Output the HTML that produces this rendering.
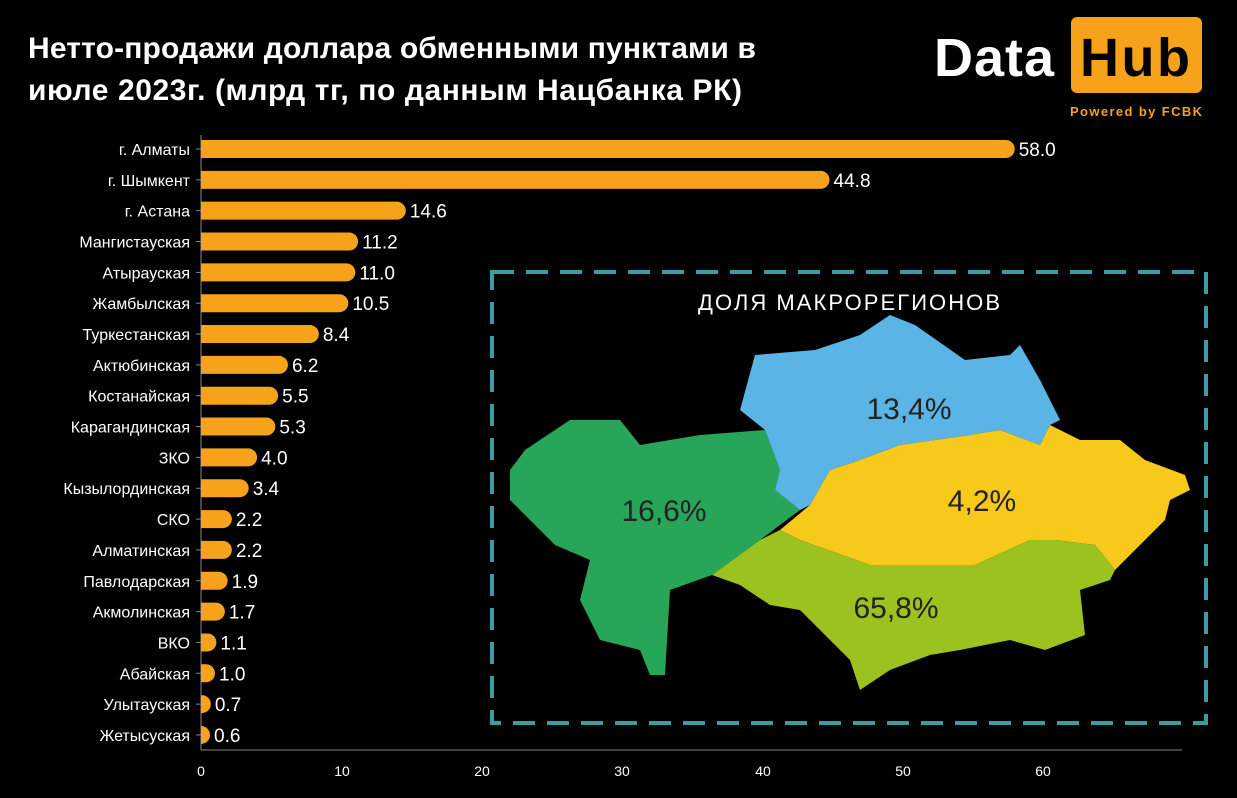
<!DOCTYPE html><html><head><meta charset="utf-8"><style>
body{margin:0;background:#000;width:1237px;height:793px;overflow:hidden;font-family:"Liberation Sans",sans-serif;}
</style></head><body>
<svg width="1237" height="793" xmlns="http://www.w3.org/2000/svg" font-family="Liberation Sans, sans-serif">
<text x="28" y="58" fill="#fff" font-size="30" font-weight="bold" textLength="728">Нетто-продажи доллара обменными пунктами в</text>
<text x="28" y="100" fill="#fff" font-size="30" font-weight="bold" textLength="714">июле 2023г. (млрд тг, по данным Нацбанка РК)</text>
<text x="934" y="76" fill="#fff" font-size="54" font-weight="bold" textLength="120">Data</text>
<rect x="1071" y="17" width="131" height="76" rx="6" fill="#f7a21b"/>
<text x="1080" y="76" fill="#000" font-size="54" font-weight="bold" textLength="110">Hub</text>
<text x="1070" y="116" fill="#f7a21b" font-size="13" font-weight="bold" textLength="132">Powered by FCBK</text>
<rect x="492" y="272" width="714" height="451" fill="none" stroke="#3c9ca6" stroke-width="4" stroke-dasharray="22 12"/>
<text x="849" y="310" fill="#fff" font-size="22" text-anchor="middle" textLength="302">ДОЛЯ МАКРОРЕГИОНОВ</text>
<polygon fill="#27a65a" points="510,470 525,450 570,420 620,420 640,445 700,435 765,430 780,470 775,490 800,510 760,540 712,575 670,590 665,675 650,675 640,650 600,640 580,600 590,560 555,545 525,515 510,500"/>
<polygon fill="#5ab4e5" points="775,490 780,470 765,430 740,410 755,355 815,350 860,335 890,315 915,325 965,360 1010,355 1020,345 1040,380 1060,420 1050,425 1040,445 1000,430 970,435 900,445 860,460 830,470 810,505 800,510"/>
<polygon fill="#f6c91b" points="810,505 830,470 860,460 900,445 970,435 1000,430 1040,445 1050,425 1080,440 1120,440 1145,460 1185,475 1190,490 1170,500 1165,520 1145,540 1115,570 1095,545 1055,540 1030,540 975,565 870,565 800,540 780,530"/>
<polygon fill="#9bc21f" points="712,575 760,540 780,530 800,540 870,565 975,565 1030,540 1055,540 1095,545 1115,570 1110,580 1080,590 1085,635 1045,650 1010,640 960,650 930,655 890,670 860,690 850,660 830,640 800,610 770,605 740,585"/>
<g font-size="30" fill="#222" text-anchor="middle">
<text x="909" y="419">13,4%</text><text x="664" y="521">16,6%</text><text x="982" y="511">4,2%</text><text x="896" y="618">65,8%</text></g>
<line x1="201" y1="750" x2="1182" y2="750" stroke="#888" stroke-width="1"/>
<line x1="201" y1="135" x2="201" y2="750" stroke="#888" stroke-width="1"/>
<g font-size="14" fill="#fff" text-anchor="middle">
<text x="201" y="776">0</text><text x="342" y="776">10</text><text x="482" y="776">20</text><text x="622" y="776">30</text><text x="763" y="776">40</text><text x="903" y="776">50</text><text x="1043" y="776">60</text></g>
<g id="bars"></g>
</svg>
<script>
var d=[["г. Алматы",58.0],["г. Шымкент",44.8],["г. Астана",14.6],["Мангистауская",11.2],["Атырауская",11.0],["Жамбылская",10.5],["Туркестанская",8.4],["Актюбинская",6.2],["Костанайская",5.5],["Карагандинская",5.3],["ЗКО",4.0],["Кызылординская",3.4],["СКО",2.2],["Алматинская",2.2],["Павлодарская",1.9],["Акмолинская",1.7],["ВКО",1.1],["Абайская",1.0],["Улытауская",0.7],["Жетысуская",0.6]];
var g=document.getElementById("bars"),s="";
d.forEach(function(r,i){var y=149+i*30.84,w=Math.max(r[1]*14.03,9),x2=201+w;
s+='<path fill="#f7a21b" d="M201 '+(y-9)+'H'+(x2-9)+'A9 9 0 0 1 '+(x2-9)+' '+(y+9)+'H201Z"/>';
s+='<line x1="196" x2="201" y1="'+y+'" y2="'+y+'" stroke="#888"/>';
s+='<text x="190" y="'+(y+6)+'" fill="#fff" font-size="16" text-anchor="end">'+r[0]+'</text>';
s+='<text x="'+(x2+4)+'" y="'+(y+7)+'" fill="#fff" font-size="19">'+r[1].toFixed(1)+'</text>';});
g.innerHTML=s;
</script>
</body></html>
